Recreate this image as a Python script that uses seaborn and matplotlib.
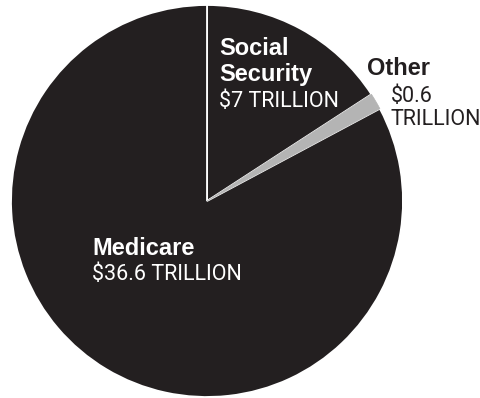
import matplotlib
matplotlib.use("Agg")
import matplotlib.pyplot as plt
import seaborn as sns

categories = ["Social Security", "Other", "Medicare"]
values = [7, 0.6, 36.6]
label_names = ["Social\nSecurity", "Other", "Medicare"]
value_labels = ["$7 TRILLION", "$0.6\nTRILLION", "$36.6 TRILLION"]

sns.set_theme(style="white")
plt.rcParams["font.family"] = ["Liberation Sans", "DejaVu Sans"]

pie_colors = ["#231f20", "#b4b4b4", "#231f20"]

W, H = 481, 398
fig = plt.figure(figsize=(W / 100, H / 100), dpi=100)
ax = fig.add_axes([0, 0, 1, 1])

cx, cy, R = 207, 201, 196
wedges, _ = ax.pie(values, colors=pie_colors, startangle=90, counterclock=False,
                   radius=1, center=(0, 0),
                   wedgeprops=dict(edgecolor="white", linewidth=1.3))
wedges[1].set_edgecolor(pie_colors[1])
wedges[1].set_linewidth(0.5)
wedges[1].set_zorder(5)
ax.set_xlim(-cx / R, (W - cx) / R)
ax.set_ylim(-(H - cy) / R, cy / R)
ax.set_aspect("auto")
ax.axis("off")


def ptext(px, py, s, **kw):
    fig.text(px / W, 1 - py / H, s, va="baseline", ha="left", **kw)


bold = dict(fontsize=17, fontweight="bold")
light = dict(fontsize=15.5, family=["Roboto", "DejaVu Sans"], fontweight="normal")

# Social Security
ptext(219, 55, "Social", color="white", **bold)
ptext(219, 81, "Security", color="white", **bold)
ptext(219, 107, value_labels[0], color="white", **light)
# Other
ptext(367, 75, label_names[1], color="#231f20", **bold)
ptext(391, 102, "$0.6", color="#231f20", **light)
ptext(391, 125, "TRILLION", color="#231f20", **light)
# Medicare
ptext(92, 255, label_names[2], color="white", **bold)
ptext(92, 280, value_labels[2], color="white", **light)

fig.savefig("out.png", dpi=100, facecolor="white")
